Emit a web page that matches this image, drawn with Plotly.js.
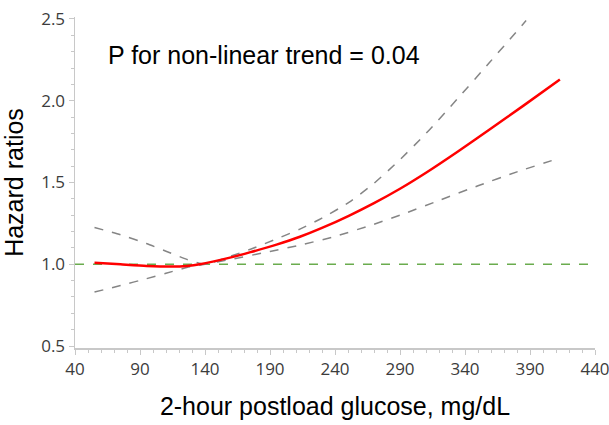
<!DOCTYPE html>
<html>
<head>
<meta charset="utf-8">
<script src="https://cdn.plot.ly/plotly-3.0.1.min.js"></script>
<style>html,body{margin:0;padding:0;background:#fff;}#chart{width:609px;height:425px;}</style>
</head>
<body>
<div id="chart"></div>
<script>
var glucose = [55, 75, 95, 115, 126, 136, 160, 175, 195, 213, 230, 251, 270, 290, 310, 334, 360, 385, 413];
var hazardRatio = [1.01, 1.0, 0.99, 0.986, 0.99, 1.0, 1.042, 1.074, 1.12, 1.168, 1.222, 1.298, 1.374, 1.462, 1.56, 1.687, 1.83, 1.97, 2.13];

var upperX = [55, 75, 95, 110, 126, 140, 160, 175, 195, 213, 230, 251, 270, 290, 310, 334, 359, 387];
var upperCI = [1.225, 1.18, 1.127, 1.08, 1.03, 1.0, 1.05, 1.092, 1.155, 1.215, 1.282, 1.38, 1.495, 1.64, 1.8, 2.01, 2.235, 2.49];

var lowerX = [55, 75, 95, 110, 126, 140, 160, 190, 213, 240, 270, 290, 320, 350, 380, 413];
var lowerCI = [0.83, 0.87, 0.912, 0.945, 0.98, 1.0, 1.03, 1.078, 1.117, 1.17, 1.245, 1.3, 1.39, 1.48, 1.565, 1.65];

var refX = [40, 440];
var refY = [1.0, 1.0];

var xTicks = [40, 90, 140, 190, 240, 290, 340, 390, 440];
var yTicks = [0.5, 1.0, 1.5, 2.0, 2.5];
var yTickText = ['0.5', '1.0', '1.5', '2.0', '2.5'];

var traces = [
  {x: refX, y: refY, mode: 'lines', line: {color: '#6aac4e', width: 1.5, dash: 'dash'}, hoverinfo: 'skip'},
  {x: upperX, y: upperCI, mode: 'lines', line: {color: '#858585', width: 1.5, dash: 'dash', shape: 'spline', smoothing: 0.6}},
  {x: lowerX, y: lowerCI, mode: 'lines', line: {color: '#858585', width: 1.5, dash: 'dash', shape: 'spline', smoothing: 0.6}},
  {x: glucose, y: hazardRatio, mode: 'lines', line: {color: '#ff0000', width: 2.5, shape: 'spline', smoothing: 0.6}}
];

var tickFont = {family: 'Open Sans, DejaVu Sans, sans-serif', size: 17, color: '#3c3c3c'};
var titleFont = {family: 'Liberation Sans, Arial, sans-serif', size: 25, color: '#000'};

var layout = {
  width: 609, height: 425,
  margin: {l: 75, r: 14, t: 17, b: 77},
  paper_bgcolor: '#fff', plot_bgcolor: '#fff',
  showlegend: false,
  xaxis: {
    range: [40, 440], tickvals: xTicks, ticktext: xTicks.map(String),
    showgrid: false, zeroline: false, showline: true, linecolor: '#c8c8c8', linewidth: 1.5,
    ticks: 'outside', ticklen: 5, tickcolor: '#c8c8c8', tickwidth: 1,
    minor: {dtick: 10, tick0: 40, ticks: 'outside', ticklen: 3, tickcolor: '#c8c8c8', showgrid: false},
    tickfont: tickFont, ticklabeloverflow: 'allow',
    title: {text: '2-hour postload glucose, mg/dL', font: titleFont, standoff: 18}
  },
  yaxis: {
    range: [0.488, 2.512], tickvals: yTicks, ticktext: yTickText,
    showgrid: false, zeroline: false, showline: true, linecolor: '#c8c8c8', linewidth: 1.5,
    ticks: 'outside', ticklen: 5, tickcolor: '#c8c8c8', tickwidth: 1,
    minor: {dtick: 0.1, tick0: 0.5, ticks: 'outside', ticklen: 3, tickcolor: '#c8c8c8', showgrid: false},
    tickfont: tickFont, ticklabeloverflow: 'allow',
    title: {text: 'Hazard ratios', font: titleFont, standoff: 10}
  },
  annotations: [{
    text: 'P for non-linear trend = 0.04', xref: 'x', yref: 'y',
    x: 63.8, y: 2.278, xanchor: 'left', yanchor: 'middle', showarrow: false,
    font: {family: 'Liberation Sans, Arial, sans-serif', size: 25, color: '#000'}
  }]
};

Plotly.newPlot('chart', traces, layout, {displayModeBar: false, staticPlot: true});
</script>
</body>
</html>
